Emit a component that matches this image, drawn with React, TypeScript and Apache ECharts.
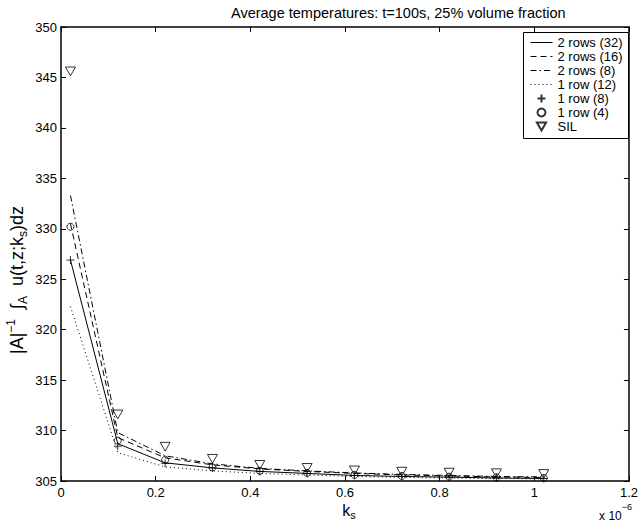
import React, { useEffect, useRef } from "react";
import * as echarts from "echarts";

// x positions (units of 1e-6)
const kValues = [0.02, 0.12, 0.22, 0.32, 0.42, 0.52, 0.62, 0.72, 0.82, 0.92, 1.02];
const rows2_32 = [326.9, 308.7, 306.8, 306.3, 305.95, 305.75, 305.55, 305.45, 305.38, 305.3, 305.25];
const rows2_16 = [330.5, 309.3, 307.3, 306.6, 306.2, 305.95, 305.75, 305.6, 305.5, 305.4, 305.35];
const rows2_8 = [333.3, 309.8, 307.5, 306.7, 306.25, 306.0, 305.8, 305.65, 305.55, 305.45, 305.4];
const row1_12 = [322.3, 307.8, 306.4, 306.0, 305.75, 305.6, 305.45, 305.35, 305.3, 305.25, 305.2];
const row1_8 = [326.9, 308.45, 306.75, 306.3, 305.95, 305.75, 305.55, 305.45, 305.38, 305.32, 305.25];
const row1_4 = [330.2, 309.0, 307.1, 306.35, 306.0, 305.8, 305.6, 305.5, 305.43, 305.37, 305.3];
const sil = [345.6, 311.6, 308.4, 307.2, 306.6, 306.3, 306.05, 305.93, 305.83, 305.77, 305.7];

const seriesNames = ["2 rows (32)", "2 rows (16)", "2 rows (8)", "1 row (12)", "1 row (8)", "1 row (4)", "SIL"];
const titleText = "Average temperatures: t=100s, 25% volume fraction";

const FONT = "Liberation Sans, Arial, Helvetica, sans-serif";

const pts = (arr: number[]) => kValues.map((k, i) => [k, arr[i]]);

export default function App() {
  const ref = useRef<HTMLDivElement>(null);
  useEffect(() => {
    if (!ref.current) return;
    const chart = echarts.init(ref.current, undefined, { renderer: "svg" });
    const axisLine = { show: true, onZero: false, lineStyle: { color: "#000", width: 1.5 } };
    const axisTick = { show: true, inside: true, length: 5, lineStyle: { color: "#000", width: 1 } };
    const lineTypes: any[] = ["solid", [6, 4], [6, 3, 1.5, 3], [1, 3]];
    const lineSeries = (name: string, data: number[], type: any) => ({
      type: "line",
      name,
      data: pts(data),
      symbol: "none",
      showSymbol: false,
      silent: true,
      lineStyle: { color: "#000", width: 1, type },
      itemStyle: { color: "#000" },
      z: 2,
    });
    const markerSeries = (name: string, data: number[], symbol: string, size: number) => ({
      type: "scatter",
      name,
      data: pts(data),
      symbol,
      symbolSize: size,
      symbolKeepAspect: true,
      silent: true,
      itemStyle: { color: "rgba(0,0,0,0)", borderColor: "#000", borderWidth: 1 },
      z: 3,
    });
    const option: any = {
      animation: false,
      grid: { left: 61, right: 5, top: 27, bottom: 43, containLabel: false },
      textStyle: { fontFamily: FONT },
      xAxis: [
        {
          type: "value",
          min: 0,
          max: 1.2,
          interval: 0.2,
          position: "bottom",
          axisLine,
          axisTick,
          splitLine: { show: false },
          axisLabel: {
            color: "#000",
            fontSize: 13,
            fontFamily: FONT,
            margin: 5,
            formatter: (v: number) => String(+v.toFixed(1)),
          },
        },
        {
          type: "value",
          min: 0,
          max: 1.2,
          interval: 0.2,
          position: "top",
          axisLine,
          axisTick,
          splitLine: { show: false },
          axisLabel: { show: false },
        },
      ],
      yAxis: [
        {
          type: "value",
          min: 305,
          max: 350,
          interval: 5,
          position: "left",
          axisLine,
          axisTick,
          splitLine: { show: false },
          axisLabel: { color: "#000", fontSize: 13, fontFamily: FONT, margin: 4 },
        },
        {
          type: "value",
          min: 305,
          max: 350,
          interval: 5,
          position: "right",
          axisLine,
          axisTick,
          splitLine: { show: false },
          axisLabel: { show: false },
        },
      ],
      legend: {
        orient: "vertical",
        left: 530,
        top: 36,
        padding: 0,
        itemWidth: 22,
        itemHeight: 8,
        itemGap: 1,
        selectedMode: false,
        data: seriesNames.map((n, i) =>
          i < 4
            ? { name: n, itemStyle: { opacity: 0 }, lineStyle: { width: 1, color: "#000", type: lineTypes[i] } }
            : { name: n }
        ),
        textStyle: { color: "#000", fontSize: 13, fontFamily: FONT, lineHeight: 13 },
        z: 10,
      },
      graphic: [
        {
          type: "rect",
          shape: { x: 523.5, y: 32.5, width: 105, height: 106 },
          style: { fill: "#fff", stroke: "#000", lineWidth: 1 },
          z: 5,
          silent: true,
        },
        {
          type: "text",
          x: 231,
          y: 13,
          style: {
            text: titleText,
            fill: "#000",
            font: `14.5px ${FONT}`,
            textAlign: "left",
            textVerticalAlign: "middle",
          },
        },
        {
          type: "text",
          x: 17,
          y: 354,
          rotation: Math.PI / 2,
          style: {
            text: "{m||A|}{sup|−1}{m|  ∫}{sub|A}{m|  u(t,z;k}{sub|s}{m|)dz}",
            fill: "#000",
            textAlign: "left",
            textVerticalAlign: "middle",
            rich: {
              m: { fontSize: 18, fontFamily: FONT, lineHeight: 24, verticalAlign: "middle", fill: "#000" },
              sup: { fontSize: 12, fontFamily: FONT, lineHeight: 24, verticalAlign: "top", fill: "#000" },
              sub: { fontSize: 12, fontFamily: FONT, lineHeight: 24, verticalAlign: "bottom", fill: "#000" },
            },
          },
        },
        {
          type: "text",
          x: 349,
          y: 510,
          style: {
            text: "{m|k}{sub|s}",
            fill: "#000",
            textAlign: "center",
            textVerticalAlign: "middle",
            rich: {
              m: { fontSize: 16, fontFamily: FONT, lineHeight: 20, verticalAlign: "middle", fill: "#000" },
              sub: { fontSize: 11, fontFamily: FONT, lineHeight: 20, verticalAlign: "bottom", fill: "#000" },
            },
          },
        },
        {
          type: "text",
          x: 632,
          y: 512,
          style: {
            text: "{m|x 10}{sup|−6}",
            fill: "#000",
            textAlign: "right",
            textVerticalAlign: "middle",
            rich: {
              m: { fontSize: 12, fontFamily: FONT, lineHeight: 20, verticalAlign: "bottom", fill: "#000" },
              sup: { fontSize: 9, fontFamily: FONT, lineHeight: 20, verticalAlign: "top", fill: "#000" },
            },
          },
        },
      ],
      series: [
        lineSeries(seriesNames[0], rows2_32, lineTypes[0]),
        lineSeries(seriesNames[1], rows2_16, lineTypes[1]),
        lineSeries(seriesNames[2], rows2_8, lineTypes[2]),
        lineSeries(seriesNames[3], row1_12, lineTypes[3]),
        markerSeries(seriesNames[4], row1_8, "path://M5,0L5,10M0,5L10,5", 8),
        markerSeries(seriesNames[5], row1_4, "circle", 7),
        markerSeries(seriesNames[6], sil, "path://M0,0L10,0L5,8.7Z", 10),
      ],
    };
    chart.setOption(option);
    return () => chart.dispose();
  }, []);
  return (
    <div
      ref={ref}
      style={{ position: "fixed", left: 0, top: 0, width: 641, height: 524, background: "#fff" }}
    />
  );
}
